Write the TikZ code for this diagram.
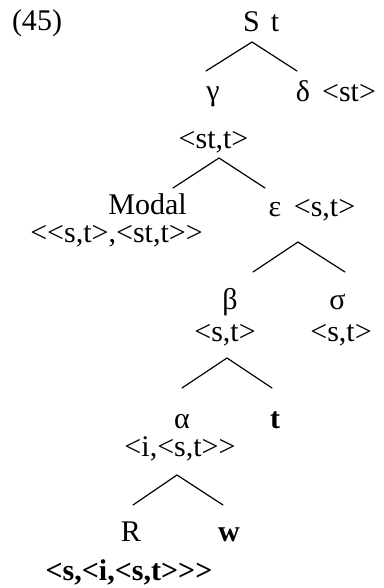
\documentclass[tikz,border=0pt]{standalone}
\usepackage{fontspec}
\setmainfont{Liberation Serif}[Ligatures=TeXOff]
\begin{document}
\begin{tikzpicture}[x=1pt,y=-1pt,
  lbl/.style={anchor=base, inner sep=0pt, font=\fontsize{30}{36}\selectfont},
  blbl/.style={anchor=base, inner sep=0pt, font=\fontsize{30}{36}\selectfont\bfseries},
  br/.style={line width=1.2pt, line cap=round}]
\useasboundingbox (0,0) rectangle (383,588);
% labels
\node[lbl] (ex) at (37,31) {(45)};
\node[lbl] (S) at (251.5,32) {S};
\node[lbl] (St) at (275,32) {t};
\node[lbl] (gamma) at (213,101) {γ};
\node[lbl] (delta) at (303,102) {δ};
\node[lbl] (deltat) at (349,102) {<st>};
\node[lbl] (gammat) at (213.5,149) {<st,t>};
\node[lbl] (modal) at (147.5,214) {Modal};
\node[lbl] (modalt) at (116.5,242) {<<s,t>,<st,t>>};
\node[lbl] (eps) at (275,216) {ε};
\node[lbl] (epst) at (324.5,216) {<s,t>};
\node[lbl] (beta) at (230,309) {β};
\node[lbl] (sigma) at (337.5,309) {σ};
\node[lbl] (betat) at (225,341) {<s,t>};
\node[lbl] (sigmat) at (341,341) {<s,t>};
\node[lbl] (alpha) at (182,428) {α};
\node[blbl] (tb) at (275,428) {t};
\node[lbl] (alphat) at (180,456) {<i,<s,t>>};
\node[lbl] (R) at (131,541) {R};
\node[blbl] (w) at (229,541) {w};
\node[blbl] (Rt) at (129,580) {<s,<i,<s,t>>>};
% branches
\draw[br] ([shift={(-7pt,30pt)}]gamma.base) -- ([shift={(0.5pt,-10pt)}]S.base) -- ([shift={(-6pt,31pt)}]delta.base);
\draw[br] ([shift={(25.5pt,26pt)}]modal.base) -- ([shift={(5.5pt,-9pt)}]gammat.base) -- ([shift={(-10pt,28pt)}]eps.base);
\draw[br] ([shift={(23pt,37pt)}]beta.base) -- ([shift={(23pt,-26pt)}]eps.base) -- ([shift={(7.5pt,37pt)}]sigma.base);
\draw[br] ([shift={(0pt,40pt)}]alpha.base) -- ([shift={(2pt,-17pt)}]betat.base) -- ([shift={(-3pt,40pt)}]tb.base);
\draw[br] ([shift={(2pt,36pt)}]R.base) -- ([shift={(-3pt,-19pt)}]alphat.base) -- ([shift={(-6pt,36pt)}]w.base);
\end{tikzpicture}
\end{document}
